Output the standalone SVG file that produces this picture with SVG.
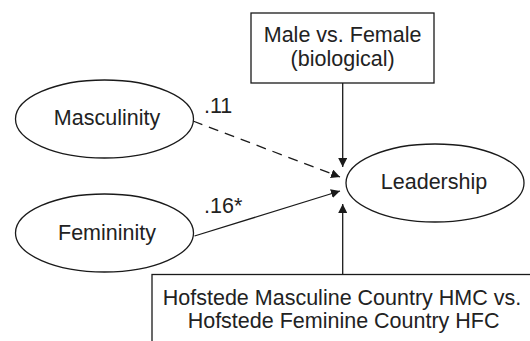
<svg xmlns="http://www.w3.org/2000/svg" width="530" height="341" viewBox="0 0 530 341">
<defs>
<style>
.shape{fill:#fff;stroke:#1a1a1a;stroke-width:1.3}
.lbl{font-family:"Liberation Sans","DejaVu Sans",sans-serif;font-size:21.5px;fill:#222;text-anchor:middle}
.coef{font-family:"Liberation Sans","DejaVu Sans",sans-serif;font-size:21.5px;fill:#222}
.edge{fill:none;stroke:#1a1a1a;stroke-width:1.3}
.dash{stroke-dasharray:10,7}
</style>
<marker id="arr" viewBox="0 0 10 10" refX="10" refY="5" markerWidth="9" markerHeight="9" markerUnits="userSpaceOnUse" orient="auto">
<path d="M0,0 L10,5 L0,10 z" fill="#1a1a1a"/>
</marker>
</defs>
<rect width="530" height="341" fill="#fff"/>
<g id="connectors">
<line class="edge" x1="342.7" y1="83" x2="342.7" y2="167" marker-end="url(#arr)"/>
<line class="edge" x1="342.7" y1="274.5" x2="342.7" y2="204" marker-end="url(#arr)"/>
<line class="edge dash" x1="193" y1="121" x2="340" y2="177" marker-end="url(#arr)"/>
<line class="edge" x1="194.5" y1="236" x2="340" y2="191" marker-end="url(#arr)"/>
<text class="coef" x="204" y="113">.11</text>
<text class="coef" x="204" y="213">.16*</text>
</g>
<g id="node-sex">
<rect class="shape" x="251" y="13" width="183" height="70"/>
<text class="lbl" x="342.6" y="41.5">Male vs. Female</text>
<text class="lbl" x="342.6" y="65.5">(biological)</text>
</g>
<g id="node-masculinity">
<ellipse class="shape" cx="104.5" cy="119" rx="89" ry="39"/>
<text class="lbl" x="107" y="125">Masculinity</text>
</g>
<g id="node-femininity">
<ellipse class="shape" cx="104.5" cy="233" rx="89" ry="39"/>
<text class="lbl" x="107" y="240">Femininity</text>
</g>
<g id="node-leadership">
<ellipse class="shape" cx="435" cy="183" rx="89" ry="39"/>
<text class="lbl" x="434" y="188.5">Leadership</text>
</g>
<g id="node-hofstede">
<rect class="shape" x="152" y="274.5" width="400" height="80"/>
<text class="lbl" x="342" y="305">Hofstede Masculine Country HMC vs.</text>
<text class="lbl" x="343.6" y="328">Hofstede Feminine Country HFC</text>
</g>
</svg>
